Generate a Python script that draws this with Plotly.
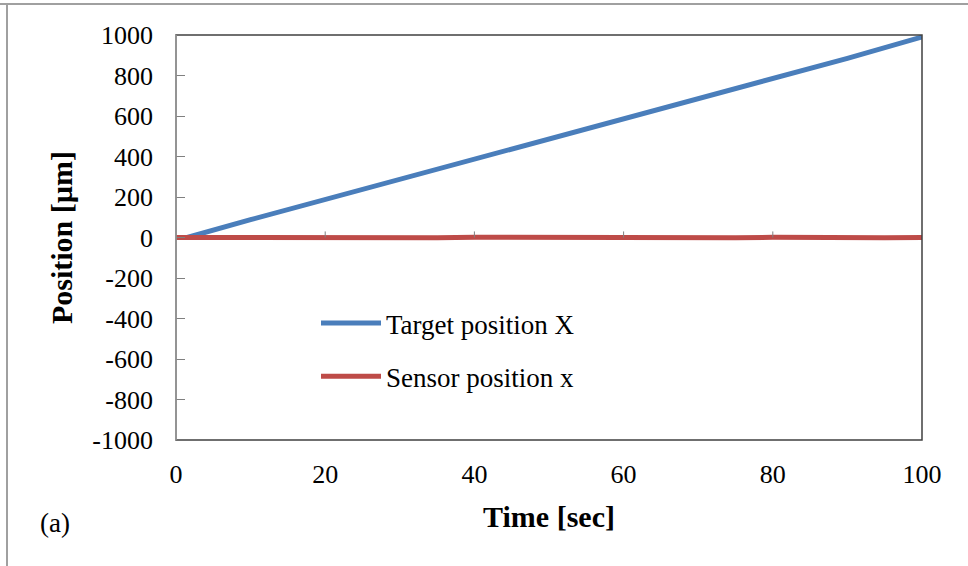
import plotly.graph_objects as go

# Time base (s) and measured positions (µm)
time_s = [0, 1.5, 10, 20, 30, 40, 50, 60, 70, 80, 90, 100]
target_um = [0, 0, 88, 188, 287, 386, 485, 584, 683, 782, 885, 990]

sensor_time_s = [0, 5, 10, 15, 20, 25, 30, 35, 40, 45, 50, 55, 60, 65, 70, 75, 80, 85, 90, 95, 100]
sensor_um = [0, -1, 0, -1, 0, -1, 0, -1, 1, 0, 0, -1, 0, -1, 0, -1, 1, -1, 0, -1, 0]

x_ticks = [0, 20, 40, 60, 80, 100]
y_ticks = [1000, 800, 600, 400, 200, 0, -200, -400, -600, -800, -1000]
y_tick_text = ["1000", "800", "600", "400", "200", "0", "-200", "-400", "-600", "-800", "-1000"]

SERIF = "Liberation Serif, Times New Roman, serif"

fig = go.Figure()
fig.add_trace(go.Scatter(x=time_s, y=target_um, mode="lines", name="Target position X",
                         legendgroup="a", line=dict(color="#4a7ebb", width=5)))
fig.add_trace(go.Scatter(x=sensor_time_s, y=sensor_um, mode="lines", name="Sensor position x",
                         legendgroup="b", line=dict(color="#be4b48", width=5)))

L, R, T, B = 176, 46, 35, 126
W, H = 968, 566
pw, ph = W - L - R, H - T - B


def px(xp):
    return (xp - L) / pw


def py(yp):
    return (H - B - yp) / ph


shapes = [
    # plot frame
    dict(type="rect", xref="paper", yref="paper", x0=0, x1=1, y0=0, y1=1,
         line=dict(color="#404040", width=1.5)),
    # left axis line
    dict(type="line", xref="paper", yref="paper", x0=0, x1=0, y0=0, y1=1,
         line=dict(color="#a0a0a0", width=1.5)),
    # outer figure border
    dict(type="line", xref="paper", yref="paper", x0=px(0), x1=px(968), y0=py(4), y1=py(4),
         line=dict(color="#a0a0a0", width=2)),
    dict(type="line", xref="paper", yref="paper", x0=px(7), x1=px(7), y0=py(4), y1=py(566),
         line=dict(color="#a0a0a0", width=2)),
]
# x ticks sit on the zero line
for xv in x_ticks[1:-1]:
    shapes.append(dict(type="line", xref="x", yref="y", x0=xv, x1=xv, y0=0, y1=30,
                       line=dict(color="#808080", width=1)))

fig.update_layout(
    width=W, height=H,
    margin=dict(l=L, r=R, t=T, b=B),
    paper_bgcolor="white", plot_bgcolor="white",
    font=dict(family=SERIF, size=26, color="black"),
    showlegend=True,
    legend=dict(x=px(316), y=py(299), xanchor="left", yanchor="top",
                bgcolor="rgba(0,0,0,0)", font=dict(size=27, family=SERIF),
                itemwidth=60, tracegroupgap=15),
    xaxis=dict(range=[0, 100], tickvals=x_ticks, showgrid=False, zeroline=False,
               showline=False, ticks="", ticklabelstandoff=16,
               tickfont=dict(size=26, family=SERIF),
               title=dict(text="<b>Time [sec]</b>", font=dict(size=30, family=SERIF), standoff=17)),
    yaxis=dict(range=[-1000, 1000], tickvals=y_ticks, ticktext=y_tick_text,
               showgrid=False, zeroline=False,
               showline=False, ticks="inside", ticklen=9, tickcolor="#808080",
               ticklabelstandoff=22, tickfont=dict(size=26, family=SERIF),
               title=dict(text="<b>Position [µm]</b>", font=dict(size=30, family=SERIF), standoff=10)),
    shapes=shapes,
    annotations=[dict(text="(a)", xref="paper", yref="paper", x=px(38), y=py(523),
                      xanchor="left", yanchor="middle", showarrow=False,
                      font=dict(size=27, family=SERIF))],
)

fig.write_html("out.html")
